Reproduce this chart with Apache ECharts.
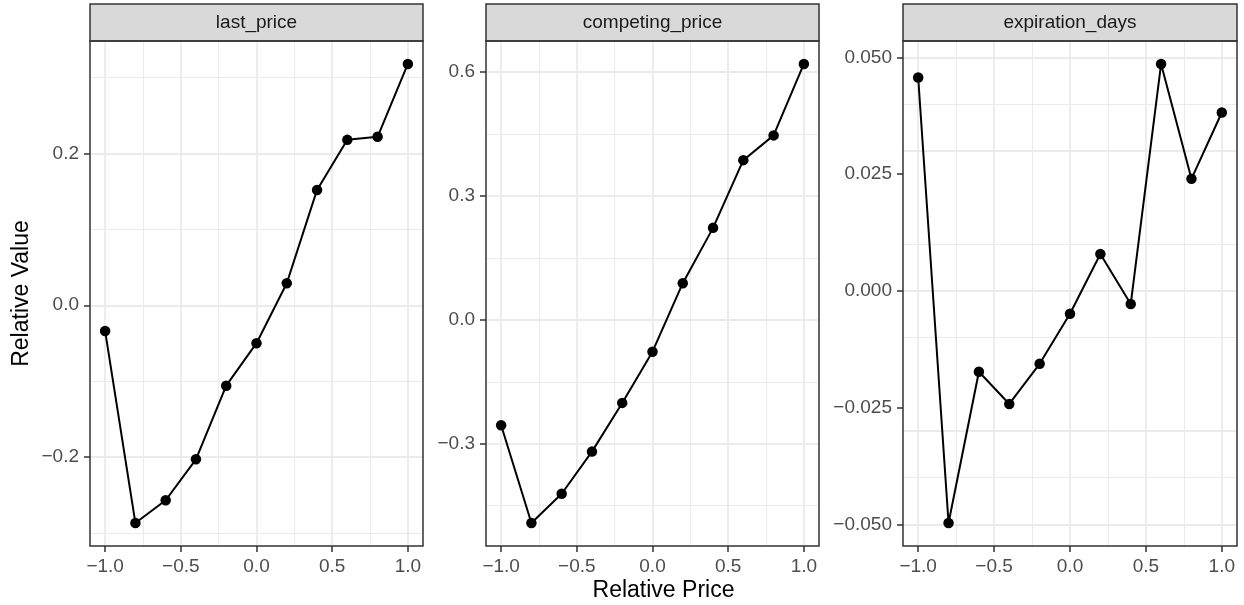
<!DOCTYPE html>
<html>
<head>
<meta charset="utf-8">
<script src="https://cdn.jsdelivr.net/npm/echarts@6/dist/echarts.min.js"></script>
<style>
html,body{margin:0;padding:0;background:#fff;}
#chart{width:1244px;height:605px;}
</style>
</head>
<body>
<div id="chart"></div>
<script>
// ---- data ----
const panelNames = ['last_price', 'competing_price', 'expiration_days'];
const relativePrice = [-1.0, -0.8, -0.6, -0.4, -0.2, 0.0, 0.2, 0.4, 0.6, 0.8, 1.0];
const lastPrice = [-0.034, -0.287, -0.257, -0.203, -0.106, -0.050, 0.029, 0.152, 0.218, 0.222, 0.318];
const competingPrice = [-0.255, -0.492, -0.421, -0.319, -0.201, -0.077, 0.089, 0.223, 0.387, 0.447, 0.620];
const expirationDays = [0.0457, -0.0497, -0.0173, -0.0242, -0.0156, -0.0049, 0.0079, -0.0028, 0.0486, 0.0240, 0.0382];

const xTicks = [-1.0, -0.5, 0.0, 0.5, 1.0];
const xMinorTicks = [-0.75, -0.25, 0.25, 0.75];
const lastTicks = [-0.2, 0.0, 0.2];
const lastMinor = [-0.3, -0.1, 0.1, 0.3];
const compTicks = [-0.3, 0.0, 0.3, 0.6];
const compMinor = [-0.45, -0.15, 0.15, 0.45];
const expTicks = [-0.050, -0.025, 0.000, 0.025, 0.050];
const expMinor = [-0.0375, -0.0125, 0.0125, 0.0375];

const xTitle = 'Relative Price';
const yTitle = 'Relative Value';

// ---- layout ----
const panels = [
  {left: 90, width: 333, values: lastPrice, ticks: lastTicks, minor: lastMinor, dec: 1},
  {left: 486, width: 333, values: competingPrice, ticks: compTicks, minor: compMinor, dec: 1},
  {left: 903, width: 334, values: expirationDays, ticks: expTicks, minor: expMinor, dec: 3}
];
const plotTop = 41, plotHeight = 505, stripTop = 4, stripH = 37;
const FONT = 'Liberation Sans, Arial, Helvetica, sans-serif';

function expand(arr) {
  const mn = Math.min(...arr), mx = Math.max(...arr), r = mx - mn;
  return [mn - 0.05 * r, mx + 0.05 * r];
}
function fmt(v, d) {
  let s = Math.abs(v) < 1e-12 ? (0).toFixed(d) : v.toFixed(d);
  return s.replace('-', '\u2212');
}

const xr = expand(relativePrice);
const grid = [], xAxis = [], yAxis = [], series = [], title = [], graphic = [];

panels.forEach((p, i) => {
  const yr = expand(p.values);
  grid.push({left: p.left, top: plotTop, width: p.width, height: plotHeight, show: true,
    backgroundColor: '#fff', borderWidth: 0, containLabel: false});
  xAxis.push({
    type: 'value', gridIndex: i, min: xr[0], max: xr[1], position: 'bottom',
    axisLine: {show: false, onZero: false},
    axisTick: {show: true, length: 6, lineStyle: {color: '#333', width: 1.5}, customValues: xTicks},
    axisLabel: {show: true, margin: 11, color: '#4D4D4D', fontSize: 19, fontFamily: FONT,
      customValues: xTicks, formatter: v => fmt(v, 1)},
    splitLine: {show: false}
  });
  yAxis.push({
    type: 'value', gridIndex: i, min: yr[0], max: yr[1], position: 'left',
    axisLine: {show: false, onZero: false},
    axisTick: {show: true, length: 6, lineStyle: {color: '#333', width: 1.5}, customValues: p.ticks},
    axisLabel: {show: true, margin: 11, color: '#4D4D4D', fontSize: 19, fontFamily: FONT,
      customValues: p.ticks, formatter: v => fmt(v, p.dec)},
    splitLine: {show: false},
    name: i === 0 ? yTitle : '',
    nameLocation: 'middle', nameRotate: 90, nameGap: 57,
    nameTextStyle: {color: '#000', fontSize: 23, fontFamily: FONT}
  });
  const gl = [];
  xTicks.forEach(v => gl.push({xAxis: v, lineStyle: {width: 1.8}}));
  xMinorTicks.forEach(v => gl.push({xAxis: v, lineStyle: {width: 1}}));
  p.ticks.forEach(v => gl.push({yAxis: v, lineStyle: {width: 1.8}}));
  p.minor.forEach(v => gl.push({yAxis: v, lineStyle: {width: 1}}));
  series.push({
    type: 'line', xAxisIndex: i, yAxisIndex: i, z: 1, silent: true,
    data: relativePrice.map((x, k) => [x, p.values[k]]),
    showSymbol: false, lineStyle: {opacity: 0},
    markLine: {z: 1, silent: true, symbol: ['none', 'none'], label: {show: false}, animation: false,
      lineStyle: {color: '#EBEBEB', type: 'solid'}, emphasis: {disabled: true}, data: gl}
  });
  series.push({
    type: 'line', xAxisIndex: i, yAxisIndex: i, z: 10,
    data: relativePrice.map((x, k) => [x, p.values[k]]),
    symbol: 'circle', symbolSize: 10.5, showSymbol: true,
    lineStyle: {color: '#000', width: 2},
    itemStyle: {color: '#000'},
    emphasis: {disabled: true}
  });
  // strip
  graphic.push({type: 'rect', z: 50, shape: {x: p.left, y: stripTop, width: p.width, height: stripH},
    style: {fill: '#D9D9D9', stroke: '#333', lineWidth: 1.5}});
  // panel border
  graphic.push({type: 'rect', z: 50, shape: {x: p.left, y: plotTop, width: p.width, height: plotHeight},
    style: {fill: 'none', stroke: '#333', lineWidth: 1.5}});
  title.push({text: panelNames[i], left: p.left + p.width / 2, top: stripTop + stripH / 2,
    textAlign: 'center', textVerticalAlign: 'middle', padding: 0, z: 60,
    textStyle: {color: '#1A1A1A', fontSize: 19, fontWeight: 'normal', fontFamily: FONT}});
});

title.push({text: xTitle, left: (panels[0].left + panels[2].left + panels[2].width) / 2, top: 591,
  textAlign: 'center', textVerticalAlign: 'middle', padding: 0,
  textStyle: {color: '#000', fontSize: 23, fontWeight: 'normal', fontFamily: FONT}});

const chart = echarts.init(document.getElementById('chart'), null, {renderer: 'canvas'});
chart.setOption({
  animation: false,
  backgroundColor: '#fff',
  title, grid, xAxis, yAxis, series, graphic
});
</script>
</body>
</html>
